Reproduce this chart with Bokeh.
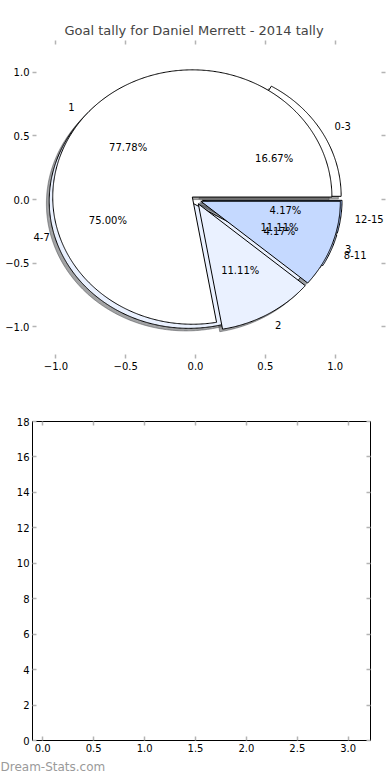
import numpy as np
from bokeh.plotting import figure
from bokeh.models import Range1d, LinearAxis, FixedTicker, Label, Title, ColumnDataSource
from bokeh.layouts import column
from bokeh.embed import file_html
from bokeh.resources import INLINE

FONT = "DejaVu Sans"

title_text = "Goal tally for Daniel Merrett - 2014 tally"
watermark_text = "Dream-Stats.com"

# pie drawn first (underneath): goal ranges
range_labels = ["0-3", "4-7", "8-11", "12-15"]
range_counts = [4, 18, 1, 1]
range_colors = ["#FFFFFF", "#EAF1FF", "#C5D9FF", "#A3C2FF"]
range_explode = [0.05, 0.05, 0.05, 0.05]

# pie drawn second (on top): goals
goal_labels = ["1", "2", "3"]
goal_counts = [7, 1, 1]
goal_colors = ["#FFFFFF", "#EAF1FF", "#C5D9FF"]
goal_explode = [0.03, 0.04, 0.04]

pie_ticks = [-1.0, -0.5, 0.0, 0.5, 1.0]
pie_tick_labels = ["\u22121.0", "\u22120.5", "0.0", "0.5", "1.0"]

bar_x_ticks = [0.0, 0.5, 1.0, 1.5, 2.0, 2.5, 3.0]
bar_x_tick_labels = ["0.0", "0.5", "1.0", "1.5", "2.0", "2.5", "3.0"]
bar_y_ticks = [0, 2, 4, 6, 8, 10, 12, 14, 16, 18]
bar_y_tick_labels = ["0", "2", "4", "6", "8", "10", "12", "14", "16", "18"]

# layout (pixels)
LEFT = 32
PIE_X0, PIE_X1 = -1.168, 1.361
PIE_FW = 353
FONT_PX = 10
CHAR_EM = {"-": 0.361, ".": 0.318, "%": 0.95}


def text_width(s):
    return sum(CHAR_EM.get(ch, 0.636) for ch in s) * FONT_PX


def shade(hexcol, rho=0.3):
    h = hexcol.lstrip("#")
    r, g, b = (int(h[i:i + 2], 16) for i in (0, 2, 4))
    return "#%02x%02x%02x" % (int(r * rho), int(g * rho), int(b * rho))


def pie_parts(counts, explode, colors, labels):
    c = np.asarray(counts, dtype=float)
    frac = c / c.sum()
    t2s = np.cumsum(frac) * 2 * np.pi
    t1s = t2s - frac * 2 * np.pi
    wx, wy, sx, sy, texts = [], [], [], [], []
    for t1, t2, e, f, lab in zip(t1s, t2s, explode, frac, labels):
        mid = 0.5 * (t1 + t2)
        cx, cy = e * np.cos(mid), e * np.sin(mid)
        n = max(int(np.degrees(t2 - t1) * 2), 4)
        t = np.linspace(t1, t2, n)
        xs = np.concatenate([[cx], cx + np.cos(t)])
        ys = np.concatenate([[cy], cy + np.sin(t)])
        wx.append(xs.tolist()); wy.append(ys.tolist())
        sx.append((xs - 0.02).tolist()); sy.append((ys - 0.02).tolist())
        xt = cx + 1.1 * np.cos(mid)
        yt = cy + 1.1 * np.sin(mid)
        texts.append((xt, yt, lab, "left" if xt > 0 else "right"))
        texts.append((cx + 0.6 * np.cos(mid), cy + 0.6 * np.sin(mid),
                      "%.2f%%" % (100 * f), "center"))
    wedges = ColumnDataSource(dict(xs=wx, ys=wy, color=list(colors)))
    shadows = ColumnDataSource(dict(xs=sx, ys=sy, color=[shade(cc) for cc in colors]))
    return wedges, shadows, texts


def style_axis(ax, ticks, labels, show_labels, line_color):
    ax.ticker = FixedTicker(ticks=ticks)
    ax.major_label_overrides = {float(k): v for k, v in zip(ticks, labels)}
    ax.major_tick_in = 4
    ax.major_tick_out = 0
    ax.minor_tick_in = 0
    ax.minor_tick_out = 0
    ax.minor_tick_line_color = None
    ax.major_tick_line_color = "#b4b4b4"
    ax.major_tick_line_width = 1.5
    ax.axis_line_color = line_color
    ax.major_label_text_font = FONT
    if show_labels:
        ax.major_label_text_color = "black"
        ax.major_label_text_font_size = "10px"
        ax.major_label_standoff = 3
    else:
        ax.major_label_text_color = None
        ax.major_label_text_font_size = "1px"
        ax.major_label_standoff = 0


# ---------------- top: pie chart ----------------
p1 = figure(frame_width=PIE_FW, frame_height=318,
            x_range=Range1d(PIE_X0, PIE_X1), y_range=Range1d(-1.25, 1.25),
            output_backend="svg", toolbar_location=None,
            min_border_left=LEFT, min_border_right=5, min_border_top=40, min_border_bottom=20)
p1.outline_line_color = None
p1.grid.visible = False
p1.title.text = title_text
p1.title.text_font = FONT
p1.title.text_font_size = "13px"
p1.title.text_font_style = "normal"
p1.title.align = "left"
p1.title.offset = 32
p1.title.standoff = 6

p1.add_layout(LinearAxis(), "above")
p1.add_layout(LinearAxis(), "right")
for ax in p1.xaxis:
    style_axis(ax, pie_ticks, pie_tick_labels, ax in p1.below, None)
for ax in p1.yaxis:
    style_axis(ax, pie_ticks, pie_tick_labels, ax in p1.left, None)

wB, sB, tB = pie_parts(range_counts, range_explode, range_colors, range_labels)
wA, sA, tA = pie_parts(goal_counts, goal_explode, goal_colors, goal_labels)

for src in (sB, sA):
    p1.patches("xs", "ys", source=src, fill_color="color", fill_alpha=0.5,
               line_color="color", line_alpha=0.5, line_width=1)
for src in (wB, wA):
    p1.patches("xs", "ys", source=src, fill_color="color", line_color="black", line_width=1)

px_per_unit = PIE_FW / (PIE_X1 - PIE_X0)
for (x, y, txt, align) in tB + tA:
    # keep labels that would fall left of the plotting frame inside it
    xpix = (x - PIE_X0) * px_per_unit
    left_edge = xpix - (text_width(txt) if align == "right" else
                        text_width(txt) / 2 if align == "center" else 0)
    nudge = max(0.0, 1.0 - left_edge)
    p1.add_layout(Label(x=x, y=y, text=txt, text_align=align, text_baseline="middle",
                        x_offset=nudge,
                        text_font=FONT, text_font_size="10px", text_color="black"))

# ---------------- bottom: empty axes ----------------
p2 = figure(frame_width=338, frame_height=319,
            x_range=Range1d(-0.101, 3.219), y_range=Range1d(0, 18),
            output_backend="svg", toolbar_location=None,
            min_border_left=LEFT, min_border_right=20, min_border_top=43, min_border_bottom=0)
p2.outline_line_color = "black"
p2.outline_line_width = 1
p2.grid.visible = False
p2.add_layout(LinearAxis(), "above")
p2.add_layout(LinearAxis(), "right")
for ax in p2.xaxis:
    style_axis(ax, bar_x_ticks, bar_x_tick_labels, ax in p2.below, "black")
for ax in p2.yaxis:
    style_axis(ax, bar_y_ticks, bar_y_tick_labels, ax in p2.left, "black")

p2.add_layout(Title(text=watermark_text, align="left", offset=-LEFT, standoff=6,
                    text_font=FONT, text_font_size="12px", text_font_style="normal",
                    text_color="#9a9a9a"), "below")

layout = column(p1, p2)
open("out.html", "w").write(file_html(layout, INLINE))
